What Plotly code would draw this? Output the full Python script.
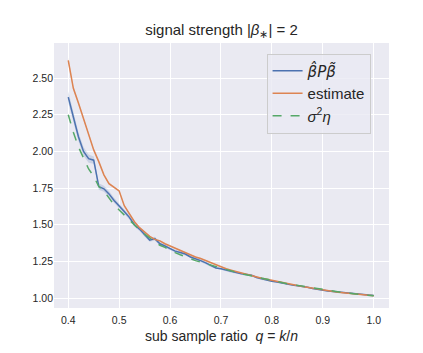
import plotly.graph_objects as go

# sub sample ratio q = k/n
q = [0.40, 0.41, 0.42, 0.43, 0.44, 0.45, 0.46, 0.47, 0.48, 0.49,
     0.50, 0.51, 0.52, 0.53, 0.54, 0.55, 0.56, 0.57, 0.58, 0.59,
     0.60, 0.61, 0.62, 0.63, 0.64, 0.65, 0.66, 0.67, 0.68, 0.69,
     0.70, 0.71, 0.72, 0.73, 0.74, 0.75, 0.76, 0.77, 0.78, 0.79,
     0.80, 0.81, 0.82, 0.83, 0.84, 0.85, 0.86, 0.87, 0.88, 0.89,
     0.90, 0.91, 0.92, 0.93, 0.94, 0.95, 0.96, 0.97, 0.98, 0.99, 1.00]

beta_p_beta = [2.37, 2.24, 2.10, 2.00, 1.95, 1.94, 1.76, 1.745, 1.71, 1.665,
               1.63, 1.59, 1.55, 1.50, 1.47, 1.43, 1.395, 1.405, 1.37, 1.355,
               1.335, 1.32, 1.31, 1.30, 1.28, 1.27, 1.255, 1.24, 1.22, 1.205,
               1.20, 1.19, 1.18, 1.17, 1.165, 1.16, 1.155, 1.14, 1.13, 1.122,
               1.115, 1.11, 1.102, 1.094, 1.088, 1.084, 1.08, 1.074, 1.065, 1.058,
               1.054, 1.048, 1.044, 1.04, 1.036, 1.033, 1.03, 1.026, 1.023, 1.02, 1.018]

beta_p_beta_err = [0.04, 0.035, 0.03, 0.03, 0.028, 0.025, 0.022, 0.02, 0.02, 0.018,
                   0.016, 0.015, 0.015, 0.014, 0.013, 0.013, 0.012, 0.012, 0.011, 0.011,
                   0.01, 0.01, 0.01, 0.01, 0.009, 0.009, 0.009, 0.009, 0.008, 0.008,
                   0.008, 0.008, 0.008, 0.007, 0.007, 0.007, 0.007, 0.007, 0.007, 0.006,
                   0.006, 0.006, 0.006, 0.006, 0.006, 0.006, 0.005, 0.005, 0.005, 0.005,
                   0.005, 0.005, 0.005, 0.005, 0.005, 0.004, 0.004, 0.004, 0.004, 0.004, 0.004]

estimate = [2.62, 2.43, 2.33, 2.22, 2.12, 2.01, 1.93, 1.84, 1.78, 1.755,
            1.73, 1.63, 1.575, 1.52, 1.48, 1.45, 1.42, 1.40, 1.39, 1.37,
            1.355, 1.34, 1.325, 1.31, 1.29, 1.28, 1.27, 1.255, 1.24, 1.225,
            1.215, 1.20, 1.19, 1.18, 1.17, 1.165, 1.155, 1.145, 1.135, 1.128,
            1.12, 1.112, 1.104, 1.097, 1.09, 1.085, 1.078, 1.072, 1.065, 1.06,
            1.055, 1.05, 1.045, 1.04, 1.036, 1.032, 1.029, 1.026, 1.022, 1.019, 1.016]

estimate_err = [0.02, 0.015, 0.012, 0.01, 0.01, 0.009, 0.008, 0.008, 0.007, 0.007,
                0.007, 0.006, 0.006, 0.006, 0.005, 0.005, 0.005, 0.005, 0.005, 0.004,
                0.004, 0.004, 0.004, 0.004, 0.004, 0.004, 0.004, 0.003, 0.003, 0.003,
                0.003, 0.003, 0.003, 0.003, 0.003, 0.003, 0.003, 0.003, 0.003, 0.003,
                0.003, 0.003, 0.003, 0.003, 0.002, 0.002, 0.002, 0.002, 0.002, 0.002,
                0.002, 0.002, 0.002, 0.002, 0.002, 0.002, 0.002, 0.002, 0.002, 0.002, 0.002]

sigma2_eta = [2.25, 2.13, 2.03, 1.96, 1.88, 1.83, 1.76, 1.73, 1.68, 1.635,
              1.60, 1.565, 1.53, 1.495, 1.465, 1.435, 1.41, 1.385, 1.36, 1.345,
              1.325, 1.31, 1.295, 1.28, 1.27, 1.255, 1.245, 1.235, 1.22, 1.21,
              1.20, 1.19, 1.18, 1.172, 1.165, 1.158, 1.15, 1.142, 1.135, 1.128,
              1.12, 1.112, 1.105, 1.098, 1.092, 1.086, 1.08, 1.074, 1.068, 1.062,
              1.056, 1.051, 1.046, 1.041, 1.037, 1.033, 1.029, 1.025, 1.021, 1.018, 1.015]

x_ticks = [0.4, 0.5, 0.6, 0.7, 0.8, 0.9, 1.0]
y_ticks = [1.00, 1.25, 1.50, 1.75, 2.00, 2.25, 2.50]

blue = "#4c72b0"
orange = "#dd8452"
green = "#55a868"

fig = go.Figure()

# confidence bands
def add_band(y, err, color):
    upper = [a + e for a, e in zip(y, err)]
    lower = [a - e for a, e in zip(y, err)]
    fig.add_trace(go.Scatter(x=q + q[::-1], y=upper + lower[::-1], fill="toself",
                             fillcolor=color, line=dict(width=0), mode="lines",
                             showlegend=False, hoverinfo="skip"))

add_band(beta_p_beta, beta_p_beta_err, "rgba(76,114,176,0.2)")
add_band(estimate, estimate_err, "rgba(221,132,82,0.2)")

# DejaVu draws the combining hat/tilde properly
fig.add_trace(go.Scatter(x=q, y=beta_p_beta, mode="lines",
                         name="<span style='font-family:DejaVu Sans'><i>β\u0302Pβ\u0303</i></span>",
                         line=dict(color=blue, width=1.5)))
fig.add_trace(go.Scatter(x=q, y=estimate, mode="lines", name="estimate",
                         line=dict(color=orange, width=1.5)))
fig.add_trace(go.Scatter(x=q, y=sigma2_eta, mode="lines", name="<i>σ</i><sup>2</sup><i>η</i>",
                         line=dict(color=green, width=1.5, dash="dash")))

# page body has an 8px margin, so the figure is 8px smaller than the window
fig.update_layout(
    width=415, height=345,
    margin=dict(l=46, r=34, t=35, b=37),
    paper_bgcolor="white",
    plot_bgcolor="#eaeaf2",
    font=dict(family="Liberation Sans, Arial, sans-serif", color="#262626"),
    title=dict(text="signal strength |<i>β</i><sub>∗</sub>| = 2", x=0.5, xref="paper",
               y=0.936, yanchor="middle", font=dict(size=15)),
    legend=dict(x=0.945, y=0.96, xanchor="right", yanchor="top",
                bgcolor="rgba(234,234,242,0.8)", bordercolor="#cccccc", borderwidth=1,
                font=dict(size=15), tracegroupgap=0),
)
fig.update_xaxes(range=[0.372, 1.03], tickvals=x_ticks, ticktext=["0.4", "0.5", "0.6", "0.7", "0.8", "0.9", "1.0"],
                 showgrid=True, gridcolor="white", gridwidth=1, zeroline=False,
                 tickfont=dict(size=10.5), ticks="", ticklabelstandoff=4,
                 title=dict(text="sub sample ratio  <i>q</i> = <i>k</i>/<i>n</i>", font=dict(size=14), standoff=6))
fig.update_yaxes(range=[0.932, 2.739], tickvals=y_ticks, ticktext=["1.00", "1.25", "1.50", "1.75", "2.00", "2.25", "2.50"],
                 showgrid=True, gridcolor="white", gridwidth=1, zeroline=False,
                 tickfont=dict(size=10.5), ticks="")

fig.write_html("out.html")
